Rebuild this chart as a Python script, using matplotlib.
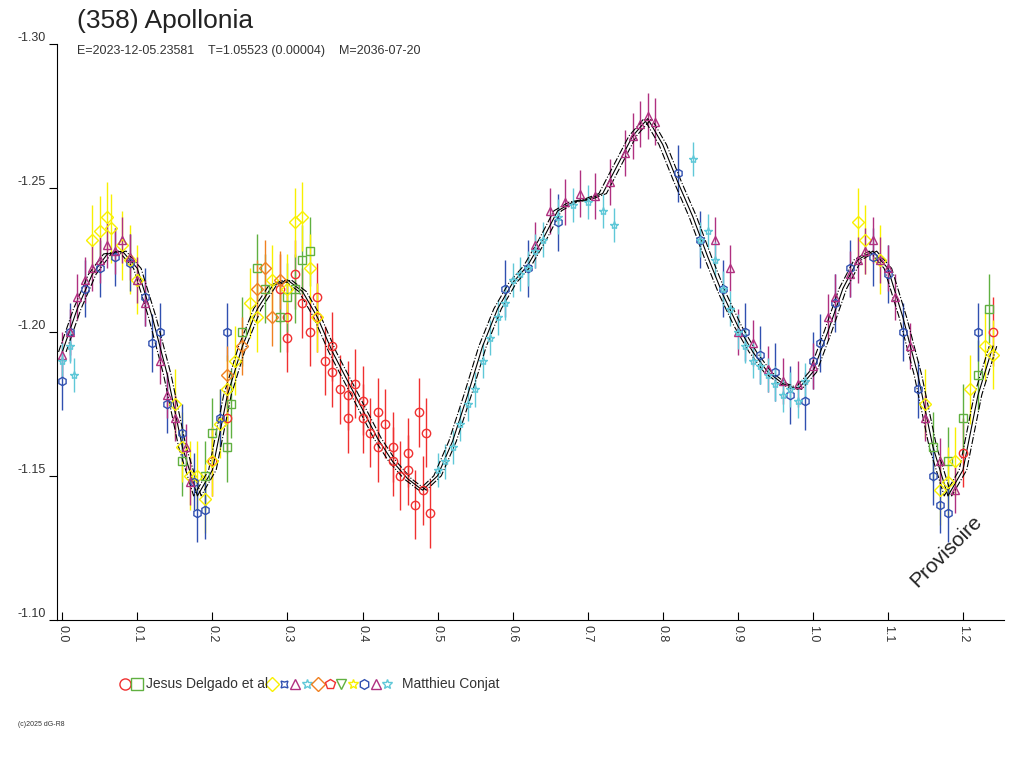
import matplotlib
matplotlib.use("Agg")
import matplotlib.pyplot as plt
from matplotlib.lines import Line2D

plt.rcParams['font.family'] = ['Liberation Sans', 'DejaVu Sans']

# modele (phase, mag)
model_p = [0.00, 0.02, 0.04, 0.06, 0.08, 0.10, 0.12, 0.14, 0.16, 0.18, 0.20, 0.22, 0.24, 0.26, 0.28, 0.30,
           0.32, 0.34, 0.36, 0.38, 0.40, 0.42, 0.44, 0.46, 0.48, 0.50, 0.52, 0.54, 0.56, 0.58, 0.60, 0.62,
           0.64, 0.66, 0.68, 0.70, 0.72, 0.74, 0.76, 0.78, 0.80, 0.82, 0.84, 0.86, 0.88, 0.90, 0.92, 0.94,
           0.96, 0.98, 1.00, 1.02, 1.04, 1.06, 1.08, 1.10, 1.12, 1.14, 1.16, 1.18, 1.20, 1.22, 1.24]
model_m = [-1.193, -1.208, -1.220, -1.227, -1.228, -1.222, -1.205, -1.185, -1.160, -1.143, -1.152, -1.178,
           -1.195, -1.208, -1.216, -1.218, -1.214, -1.205, -1.193, -1.183, -1.173, -1.163, -1.155, -1.149,
           -1.145, -1.150, -1.162, -1.178, -1.195, -1.208, -1.217, -1.223, -1.232, -1.242, -1.245, -1.246,
           -1.248, -1.258, -1.268, -1.274, -1.265, -1.252, -1.240, -1.226, -1.213, -1.202, -1.193, -1.186,
           -1.182, -1.180, -1.186, -1.200, -1.215, -1.225, -1.228, -1.222, -1.205, -1.185, -1.160, -1.143,
           -1.152, -1.178, -1.195]

red_p = [0.29, 0.30, 0.31, 0.32, 0.33, 0.34, 0.35, 0.36, 0.37, 0.38, 0.39, 0.40, 0.41, 0.42, 0.43, 0.44,
         0.45, 0.46, 0.47, 0.475, 0.48, 0.485, 0.49, 0.30, 0.34, 0.38, 0.42, 0.46, 0.36, 0.40, 0.44, 0.20, 0.22, 1.20, 1.24]
red_m = [-1.215, -1.205, -1.220, -1.210, -1.200, -1.205, -1.190, -1.195, -1.180, -1.178, -1.182, -1.170,
         -1.165, -1.160, -1.168, -1.155, -1.150, -1.152, -1.140, -1.172, -1.145, -1.165, -1.137, -1.198,
         -1.212, -1.170, -1.172, -1.158, -1.186, -1.176, -1.160, -1.155, -1.170, -1.158, -1.200]

green_p = [0.16, 0.19, 0.20, 0.22, 0.225, 0.24, 0.26, 0.27, 0.29, 0.30, 0.31, 0.32, 0.33, 1.16, 1.18, 1.20, 1.22, 1.235]
green_m = [-1.155, -1.150, -1.165, -1.160, -1.175, -1.200, -1.222, -1.215, -1.205, -1.212, -1.215, -1.225,
           -1.228, -1.160, -1.155, -1.170, -1.185, -1.208]

yellow_p = [0.04, 0.05, 0.06, 0.065, 0.08, 0.09, 0.10, 0.15, 0.16, 0.17, 0.18, 0.19, 0.20, 0.21, 0.22, 0.23,
            0.25, 0.26, 0.28, 0.30, 0.31, 0.32, 0.33, 0.34, 1.06, 1.07, 1.09, 1.15, 1.17, 1.18, 1.19, 1.21, 1.23, 1.24]
yellow_m = [-1.232, -1.235, -1.240, -1.236, -1.230, -1.225, -1.218, -1.175, -1.160, -1.150, -1.150, -1.142,
            -1.155, -1.168, -1.180, -1.190, -1.210, -1.205, -1.218, -1.215, -1.238, -1.240, -1.222, -1.205,
            -1.238, -1.232, -1.225, -1.175, -1.145, -1.148, -1.155, -1.180, -1.195, -1.192]

blue_p = [0.00, 0.01, 0.03, 0.05, 0.07, 0.09, 0.11, 0.12, 0.13, 0.14, 0.16, 0.175, 0.18, 0.19, 0.21, 0.22,
          0.59, 0.62, 0.66, 0.82, 0.85, 0.88, 0.91, 0.93, 0.95, 0.97, 0.99, 1.00, 1.01, 1.03, 1.05, 1.08,
          1.10, 1.12, 1.14, 1.16, 1.17, 1.18, 1.22]
blue_m = [-1.183, -1.200, -1.215, -1.222, -1.226, -1.224, -1.212, -1.196, -1.200, -1.175, -1.165, -1.148,
          -1.137, -1.138, -1.170, -1.200, -1.215, -1.222, -1.238, -1.255, -1.232, -1.215, -1.200, -1.192,
          -1.186, -1.178, -1.176, -1.190, -1.196, -1.210, -1.222, -1.226, -1.220, -1.200, -1.180, -1.150,
          -1.140, -1.137, -1.200]

purple_p = [0.00, 0.01, 0.02, 0.03, 0.04, 0.05, 0.06, 0.07, 0.08, 0.09, 0.10, 0.11, 0.13, 0.14, 0.15, 0.165,
            0.17, 0.63, 0.65, 0.67, 0.69, 0.71, 0.73, 0.75, 0.76, 0.77, 0.78, 0.79, 0.87, 0.89, 0.90, 0.92,
            0.94, 0.96, 0.98, 1.00, 1.02, 1.03, 1.05, 1.06, 1.07, 1.08, 1.09, 1.10, 1.11, 1.13, 1.15, 1.17, 1.19]
purple_m = [-1.192, -1.200, -1.212, -1.218, -1.222, -1.225, -1.230, -1.228, -1.232, -1.226, -1.218, -1.210,
            -1.190, -1.178, -1.170, -1.160, -1.148, -1.230, -1.242, -1.245, -1.248, -1.247, -1.252, -1.262,
            -1.268, -1.272, -1.275, -1.273, -1.232, -1.222, -1.200, -1.196, -1.187, -1.183, -1.182, -1.188,
            -1.205, -1.212, -1.220, -1.225, -1.228, -1.232, -1.225, -1.222, -1.212, -1.195, -1.170, -1.155, -1.145]

cyan_p = [0.00, 0.01, 0.015, 0.50, 0.51, 0.52, 0.53, 0.54, 0.55, 0.56, 0.57, 0.58, 0.59, 0.60, 0.61, 0.62,
          0.63, 0.64, 0.66, 0.68, 0.70, 0.72, 0.735, 0.84, 0.85, 0.86, 0.87, 0.88, 0.89, 0.90, 0.91, 0.92,
          0.93, 0.94, 0.95, 0.96, 0.97, 0.98, 0.99]
cyan_m = [-1.190, -1.195, -1.185, -1.152, -1.155, -1.160, -1.168, -1.175, -1.180, -1.190, -1.198, -1.205,
          -1.210, -1.218, -1.220, -1.222, -1.228, -1.232, -1.240, -1.244, -1.245, -1.242, -1.237, -1.260,
          -1.232, -1.235, -1.225, -1.215, -1.208, -1.200, -1.195, -1.190, -1.188, -1.185, -1.182, -1.178,
          -1.180, -1.176, -1.183]

orange_p = [0.22, 0.24, 0.26, 0.27, 0.28, 0.29]
orange_m = [-1.185, -1.195, -1.215, -1.222, -1.205, -1.218]

series = [
    (red_p, red_m, "#f03030", "o", 0.012),
    (green_p, green_m, "#60b040", "s", 0.012),
    (yellow_p, yellow_m, "#f8f000", "D", 0.012),
    (blue_p, blue_m, "#3050b0", "h", 0.010),
    (purple_p, purple_m, "#b03080", "^", 0.008),
    (cyan_p, cyan_m, "#60c8d8", "*", 0.006),
    (orange_p, orange_m, "#f08020", "D", 0.010),
]

fig = plt.figure(figsize=(10.24, 7.68), dpi=100)
ax = fig.add_axes([0.0557, 0.193, 0.925, 0.750])

for p, m, c, mk, err in series:
    ax.errorbar(p, m, yerr=err, fmt=mk, color=c, mfc="none", ms=6, mew=1, elinewidth=1, capsize=0)

ax.plot(model_p, model_m, color="black", lw=0.8)
ax.plot([x + 0.005 for x in model_p], model_m, color="black", lw=0.8, ls="-.")
ax.plot([x - 0.005 for x in model_p], model_m, color="black", lw=0.8, ls="-.")

ax.set_xlim(-0.007, 1.255)
ax.set_ylim(-1.10, -1.30)
ax.spines["top"].set_visible(False)
ax.spines["right"].set_visible(False)
ax.set_xticks([i / 10 for i in range(13)])
ax.set_xticklabels(["%.1f" % (i / 10) for i in range(13)], rotation=-90, fontsize=9, color="#333333")
ax.set_yticks([-1.30, -1.25, -1.20, -1.15, -1.10])
ax.set_yticklabels(["-1.30", "-1.25", "-1.20", "-1.15", "-1.10"], fontsize=9, color="#333333", va="bottom")
ax.tick_params(axis="y", length=6, pad=2)
ax.tick_params(axis="x", length=6, direction="in")

fig.text(0.075, 0.963, "(358) Apollonia", fontsize=19, color="#222222")
fig.text(0.075, 0.930, "E=2023-12-05.23581    T=1.05523 (0.00004)    M=2036-07-20", fontsize=9, color="#333333")
ax.text(1.23, -1.11, "Provisoire", rotation=45, fontsize=15, ha="right", va="bottom", color="#222222")
fig.text(0.018, 0.055, "(c)2025 dG-R8", fontsize=5, color="#333333")

# legende
leg = [("o", "#f03030"), ("s", "#60b040")]
x0 = 0.122
for mk, c in leg:
    fig.add_artist(Line2D([x0], [0.109], marker=mk, color=c, mfc="none", ms=8, transform=fig.transFigure))
    x0 += 0.0115
fig.text(0.143, 0.109, "Jesus Delgado et al", fontsize=10, va="center", color="#333333")
leg2 = [("D", "#f8f000"), ((4, 1, 45), "#3050b0"), ("^", "#b03080"), ("*", "#60c8d8"), ("D", "#f08020"),
        ("p", "#f03030"), ("v", "#60b040"), ("*", "#f8f000"), ("h", "#3050b0"), ("^", "#b03080"), ("*", "#60c8d8")]
x0 = 0.266
for mk, c in leg2:
    fig.add_artist(Line2D([x0], [0.109], marker=mk, color=c, mfc="none", ms=7, transform=fig.transFigure))
    x0 += 0.0112
fig.text(0.393, 0.109, "Matthieu Conjat", fontsize=10, va="center", color="#333333")

fig.savefig("out.png")
